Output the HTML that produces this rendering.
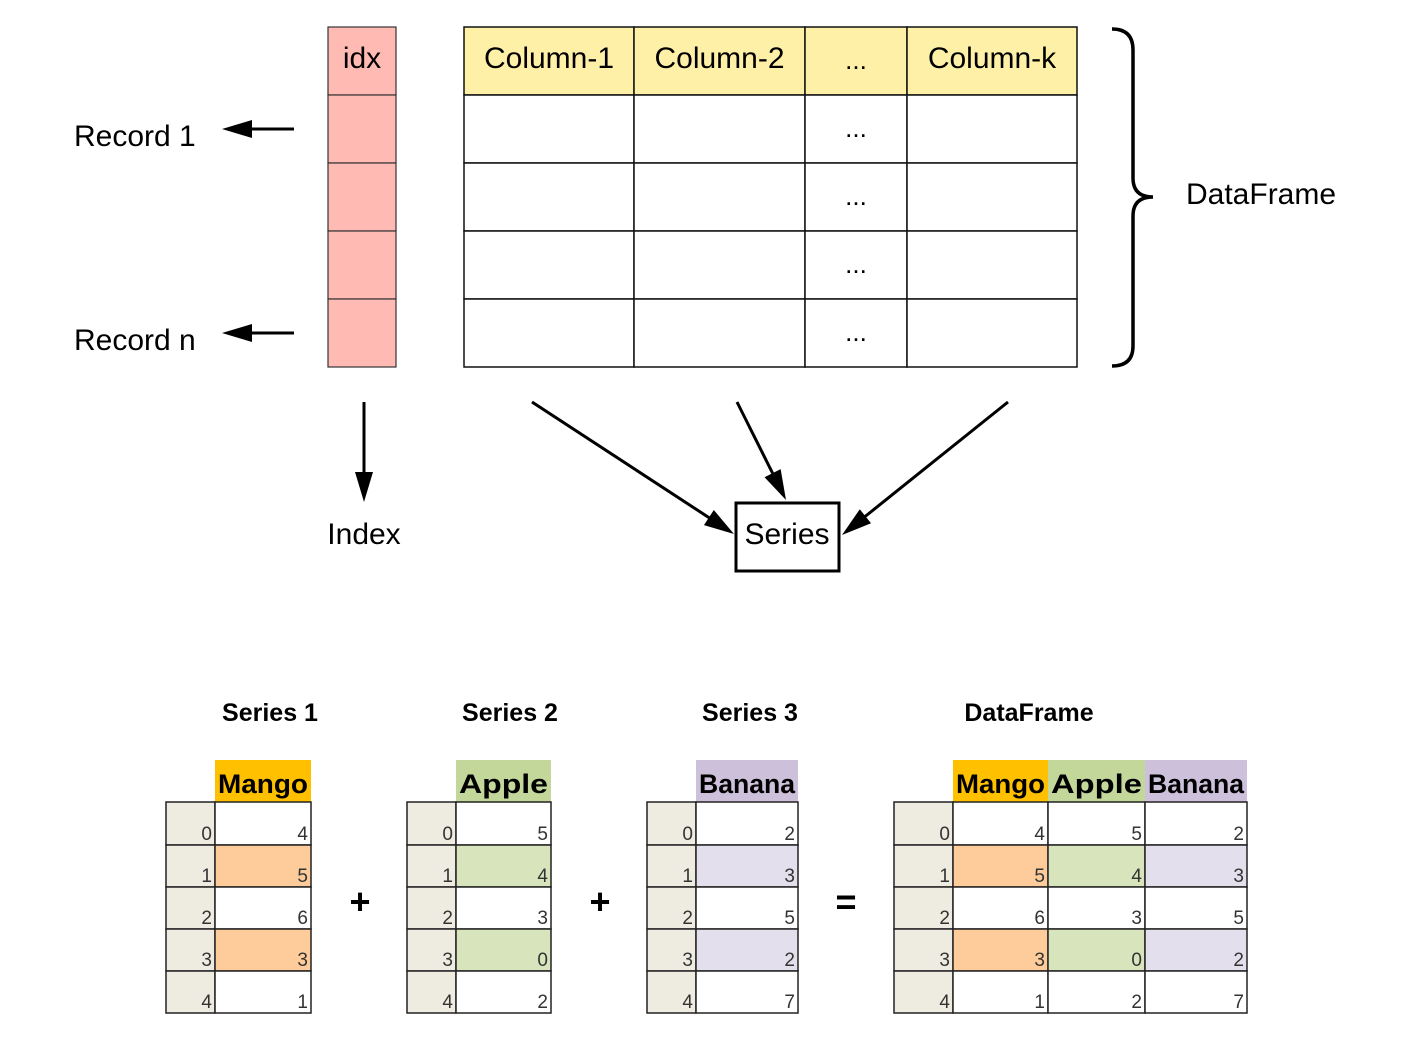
<!DOCTYPE html>
<html><head><meta charset="utf-8"><style>
html,body{margin:0;padding:0;background:#fff;}
svg{display:block;}
</style></head><body>
<svg id="root" width="1409" height="1039" viewBox="0 0 1409 1039" xmlns="http://www.w3.org/2000/svg" font-family="Liberation Sans, sans-serif">
<g id="top"></g>
<g id="bottom"></g>
</svg>
<script>
const NS='http://www.w3.org/2000/svg';
const topG=document.getElementById('top');
const botG=document.getElementById('bottom');
function mk(tag,attrs,parent,text){const e=document.createElementNS(NS,tag);for(const k in attrs)e.setAttribute(k,attrs[k]);if(text!==undefined)e.textContent=text;parent.appendChild(e);return e;}
function arrow(x1,y1,x2,y2,name){
  const g=mk('g',{},topG);
  
  
  const dx=x2-x1,dy=y2-y1,L=Math.hypot(dx,dy),ux=dx/L,uy=dy/L,px=-uy,py=ux;
  const hl=30,hw=9;
  const bx=x2-ux*hl,by=y2-uy*hl;
  mk('line',{x1:x1,y1:y1,x2:x2-ux*(hl-4),y2:y2-uy*(hl-4),stroke:'#000','stroke-width':3},g);
  mk('polygon',{points:`${x2},${y2} ${bx+px*hw},${by+py*hw} ${bx-px*hw},${by-py*hw}`,fill:'#000'},g);
}

// ---------- top diagram ----------
const headers=['Column-1','Column-2','...','Column-k'];
const colX=[464,634,805,907,1077];
const rowY=[27,95,163,231,299,367];
for(let r=0;r<5;r++){
  const c=mk('rect',{x:328,y:rowY[r],width:68,height:rowY[r+1]-rowY[r],fill:'#ffbbb3',stroke:'#333','stroke-width':1.2},topG);
  
  
}
const idxT=mk('text',{x:362,y:68,'font-size':30,'text-anchor':'middle'},topG,'idx');


for(let r=0;r<5;r++){
  for(let c=0;c<4;c++){
    const cell=mk('rect',{x:colX[c],y:rowY[r],width:colX[c+1]-colX[c],height:rowY[r+1]-rowY[r],fill:r===0?'#fff0a8':'#fff',stroke:'#111','stroke-width':1.5},topG);
    
    
  }
}
headers.forEach((h,c)=>{
  const t=mk('text',{x:(colX[c]+colX[c+1])/2,y:h==='...'?69:68,'font-size':h==='...'?26:30,'text-anchor':'middle'},topG,h);
  
  
});
for(let r=1;r<5;r++){
  const t=mk('text',{x:856,y:rowY[r]+42,'font-size':26,'text-anchor':'middle'},topG,'...');
  
  
}
const br=mk('path',{d:'M1112,29 Q1133,29 1133,50 L1133,178 Q1133,197 1153,197 Q1133,197 1133,216 L1133,346 Q1133,366 1112,366',fill:'none',stroke:'#000','stroke-width':3.5},topG);


const dfT=mk('text',{x:1186,y:204,'font-size':30},topG,'DataFrame');


[['Record 1',146,129],['Record n',350,333]].forEach(([s,by,ay])=>{
  const t=mk('text',{x:74,y:by,'font-size':30},topG,s);
  
  
  arrow(294,ay,222,ay,'record-arrow');
});
arrow(364,402,364,502,'index-arrow');
const iT=mk('text',{x:364,y:544,'font-size':30,'text-anchor':'middle'},topG,'Index');


const sb=mk('rect',{x:736,y:503,width:103,height:68,fill:'#fff',stroke:'#000','stroke-width':3},topG);


const sT=mk('text',{x:787,y:544,'font-size':30,'text-anchor':'middle'},topG,'Series');


arrow(532,402,734,534,'column-to-series-arrow');
arrow(737,402,786,500,'column-to-series-arrow');
arrow(1008,402,842,535,'column-to-series-arrow');

// ---------- bottom tables ----------
const idxVals=[0,1,2,3,4];
const mango=[4,5,6,3,1];
const apple=[5,4,3,0,2];
const banana=[2,3,5,2,7];
const headFill={Mango:'#ffc000',Apple:'#c4d79b',Banana:'#ccc0da'};
const lightFill={Mango:'#fdcc9a',Apple:'#d8e4bc',Banana:'#e4dfec'};
const seriesVals={Mango:mango,Apple:apple,Banana:banana};
const bRowY=[802,845,887,929,971,1013];
const highlightRows=[1,3];

function table(idxX0,idxX1,cols,title,titleX){
  const t=mk('text',{x:titleX,y:721,'font-size':25,'font-weight':'bold','text-anchor':'middle'},botG,title);
  
  
  cols.forEach(c=>{
    const h=mk('rect',{x:c.x0,y:760,width:c.x1-c.x0,height:42,fill:headFill[c.name]},botG);
    
    
    const ht=mk('text',{x:(c.x0+c.x1)/2,y:793,'font-size':27,'font-weight':'bold','text-anchor':'middle','textLength':c.x1-c.x0-6,'lengthAdjust':'spacingAndGlyphs'},botG,c.name);
    
    
  });
  idxVals.forEach((v,r)=>{
    const y0=bRowY[r],y1=bRowY[r+1];
    const ic=mk('rect',{x:idxX0,y:y0,width:idxX1-idxX0,height:y1-y0,fill:'#eeece1',stroke:'#222','stroke-width':1.5},botG);
    
    
    const it=mk('text',{x:idxX1-3,y:y1-5,'font-size':19,'text-anchor':'end',fill:'#333'},botG,String(v));
    
    
    cols.forEach(c=>{
      const vc=mk('rect',{x:c.x0,y:y0,width:c.x1-c.x0,height:y1-y0,fill:highlightRows.includes(r)?lightFill[c.name]:'#fff',stroke:'#222','stroke-width':1.5},botG);
      
      
      const vt=mk('text',{x:c.x1-3,y:y1-5,'font-size':19,'text-anchor':'end',fill:'#333'},botG,String(seriesVals[c.name][r]));
      
      
    });
  });
}
table(166,215,[{name:'Mango',x0:215,x1:311}],'Series 1',270);
table(407,456,[{name:'Apple',x0:456,x1:551}],'Series 2',510);
table(647,696,[{name:'Banana',x0:696,x1:798}],'Series 3',750);
table(894,953,[{name:'Mango',x0:953,x1:1048},{name:'Apple',x0:1048,x1:1145},{name:'Banana',x0:1145,x1:1247}],'DataFrame',1029);
[['+',360],['+',600],['=',846]].forEach(([s,x])=>{
  const o=mk('text',{x:x,y:914,'font-size':36,'font-weight':'bold','text-anchor':'middle'},botG,s);
  
  
});
</script>
</body></html>
